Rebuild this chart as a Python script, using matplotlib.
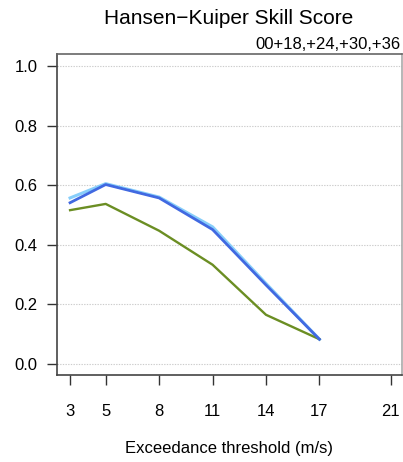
import matplotlib
matplotlib.use("Agg")
import matplotlib.pyplot as plt

plt.rcParams['font.family'] = ['Liberation Sans', 'DejaVu Sans']

thresholds = [3, 5, 8, 11, 14, 17]
tick_vals = [3, 5, 8, 11, 14, 17, 21]
y_ticks = [0.0, 0.2, 0.4, 0.6, 0.8, 1.0]

hk_light = [0.557, 0.605, 0.560, 0.460, 0.270, 0.083]
hk_blue = [0.541, 0.602, 0.557, 0.451, 0.265, 0.083]
hk_green = [0.516, 0.537, 0.447, 0.333, 0.165, 0.083]

fig = plt.figure(figsize=(4.03, 4.62), dpi=100)
ax = fig.add_axes([0.1407, 0.1883, 0.9968 - 0.1407, 0.8825 - 0.1883])

for y in y_ticks:
    ax.axhline(y, color='#cccccc', linestyle=(0, (1.2, 1.2)), linewidth=0.8, zorder=1)

ax.plot(thresholds, hk_light, color='#87CEFA', linewidth=2.2, zorder=3)
ax.plot(thresholds, hk_blue, color='#4169E1', linewidth=2.0, zorder=4)
ax.plot(thresholds, hk_green, color='#6B8E23', linewidth=1.7, zorder=3)

ax.set_xlim(2.25, 21.62)
ax.set_ylim(-0.037, 1.039)
ax.set_xticks(tick_vals)
ax.set_yticks(y_ticks)
ax.set_yticklabels(["%.1f" % v for v in y_ticks])

ax.tick_params(axis='x', direction='out', length=7, width=1, labelsize=12, pad=14, color='#333333')
ax.tick_params(axis='y', direction='out', length=7, width=1, labelsize=12, pad=7, color='#333333')

ax.spines['left'].set_color('#444444')
ax.spines['bottom'].set_color('#444444')
ax.spines['top'].set_color('#666666')
ax.spines['right'].set_color('#aaaaaa')
for s in ax.spines.values():
    s.set_linewidth(1.2)

ax.set_xlabel("Exceedance threshold (m/s)", fontsize=12, labelpad=16)
fig.text(0.568, 0.96, "Hansen\u2212Kuiper Skill Score", ha='center', va='center', fontsize=15)
fig.text(0.995, 0.895, "00+18,+24,+30,+36", ha='right', va='baseline', fontsize=12)

fig.savefig("out.png", dpi=100)
